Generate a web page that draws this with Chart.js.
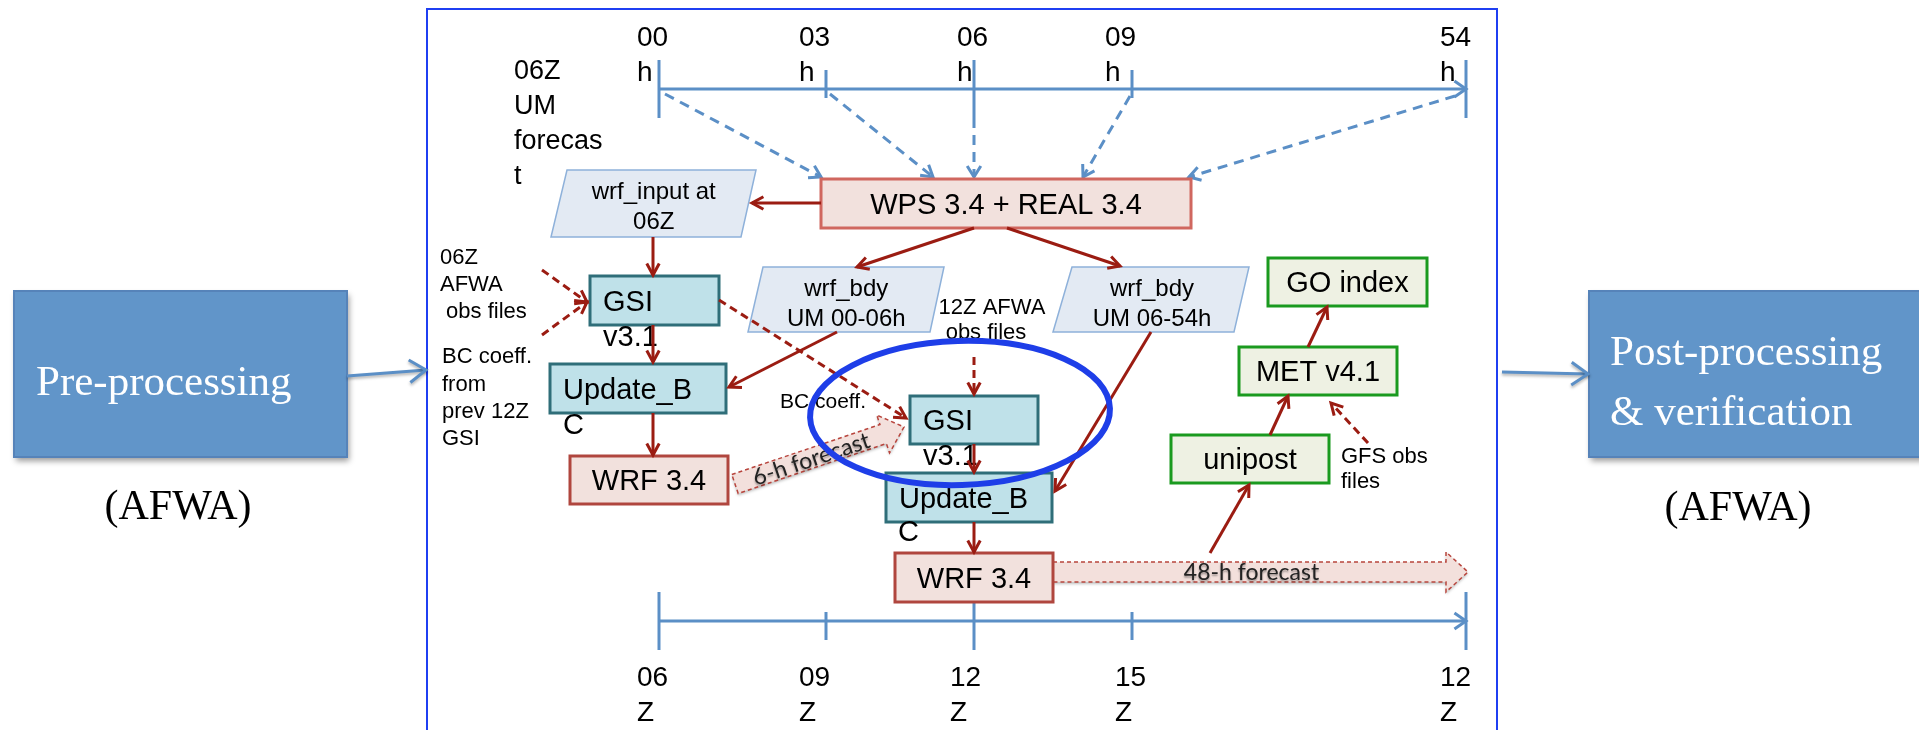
<!DOCTYPE html>
<html>
<head>
<meta charset="utf-8">
<script src="https://cdn.jsdelivr.net/npm/chart.js@4.4.1/dist/chart.umd.min.js"></script>
<style>
  html, body { margin: 0; padding: 0; background: #fff; overflow: hidden; }
  #wrap { width: 1919px; height: 730px; position: relative; }
</style>
</head>
<body>
<div id="wrap"><canvas id="flow" width="1919" height="730"></canvas></div>
<script>
// Osie czasu (góra: godziny prognozy UM, dół: czas Z)
const topHourLabels = ['00', '03', '06', '09', '54'];
const topHourX = [659, 826, 974, 1132, 1466];
const topLabelX = [637, 799, 957, 1105, 1440];
const topTickLong = [true, false, true, false, true];

const zuluLabels = ['06', '09', '12', '15', '12'];
const zuluX = [659, 826, 974, 1132, 1466];
const zuluLabelX = [637, 799, 950, 1115, 1440];
const zuluTickLong = [true, false, true, false, true];

// Prostokąty: [tekst, x1, y1, x2, y2, rodzaj]
const boxes = [
    ['WPS 3.4 + REAL 3.4', 821, 179, 1191, 228, 'wps'],
    ['GSI', 590, 276, 719, 325, 'gsi'],
    ['Update_B', 550, 364, 726, 413, 'gsi'],
    ['WRF 3.4', 570, 456, 728, 504, 'wrf'],
    ['GSI', 910, 396, 1038, 444, 'gsi'],
    ['Update_B', 886, 473, 1052, 522, 'gsi'],
    ['WRF 3.4', 895, 553, 1053, 602, 'wrf'],
    ['GO index', 1268, 258, 1427, 306, 'met'],
    ['MET v4.1', 1239, 347, 1397, 395, 'met'],
    ['unipost', 1171, 435, 1329, 483, 'met']
];

// Równoległoboki danych: [linia1, linia2, xL_góra, xR_góra, y_góra, xL_dół, xR_dół, y_dół]
const dataBoxes = [
    ['wrf_input at', '06Z', 567, 756, 170, 551, 741, 237],
    ['wrf_bdy', 'UM 00-06h', 763, 944, 267, 748, 930, 332],
    ['wrf_bdy', 'UM 06-54h', 1072, 1249, 267, 1053, 1234, 332]
];

// Strzałki: [x1, y1, x2, y2]
const redArrows = [
    [821, 203, 752, 203], [653, 237, 653, 275], [653, 325, 653, 362], [653, 413, 653, 455],
    [974, 228, 857, 267], [1007, 228, 1120, 266], [837, 332, 729, 387], [1151, 332, 1055, 491],
    [974, 444, 974, 472], [974, 522, 974, 552], [1210, 553, 1249, 485], [1270, 435, 1288, 396],
    [1308, 347, 1327, 307]
];
const redDashArrows = [
    [542, 270, 587, 302], [542, 335, 587, 302], [719, 300, 906, 418],
    [974, 357, 974, 394], [1368, 443, 1331, 403]
];
const blueDashArrows = [
    [665, 94, 821, 177], [830, 94, 933, 177], [974, 118, 974, 177],
    [1130, 96, 1083, 177], [1455, 96, 1189, 177]
];
const sideArrows = [[347, 376, 426, 370], [1502, 372, 1588, 374]];

// Strzałki blokowe prognoz: [tekst, x1, y1, x2, y2]
const forecastArrows = [
    ['6-h forecast', 735, 484, 904, 427],
    ['48-h forecast', 1053, 572, 1468, 572]
];

// Teksty luźne: [tekst, x, y, rozmiar, wyrównanie]
const notes = [
    ['06Z', 514, 72, 27, 'left'], ['UM', 514, 107, 27, 'left'], ['forecas', 514, 142, 27, 'left'], ['t', 514, 177, 27, 'left'],
    ['06Z', 440, 258, 22, 'left'], ['AFWA', 440, 285, 22, 'left'], [' obs files', 440, 312, 22, 'left'],
    ['BC coeff.', 442, 357, 22, 'left'], ['from', 442, 385, 22, 'left'], ['prev 12Z', 442, 412, 22, 'left'], ['GSI', 442, 439, 22, 'left'],
    ['v3.1', 603, 338, 29, 'left'], ['C', 563, 426, 29, 'left'],
    ['v3.1', 923, 457, 29, 'left'], ['C', 898, 533, 29, 'left'],
    ['BC coeff.', 780, 402, 21, 'left'],
    ['12Z AFWA', 992, 308, 22, 'center'], ['obs files', 986, 333, 22, 'center'],
    ['GFS obs', 1341, 457, 22, 'left'], ['files', 1341, 482, 22, 'left']
];

const STYLE = {
    wps: { fill: '#f2e1dd', stroke: '#d0675f', lw: 3 },
    gsi: { fill: '#bfe1e9', stroke: '#2f6e79', lw: 3 },
    wrf: { fill: '#f2e1dd', stroke: '#b0463e', lw: 3 },
    met: { fill: '#eef1e3', stroke: '#1a9a1f', lw: 3 }
};
const RED = '#9b1c12';
const BLUE = '#5b8fc6';
const SANS = '"Liberation Sans", Arial, sans-serif';
const SERIF = '"Liberation Serif", "DejaVu Serif", serif';

function arrowHead(ctx, x1, y1, x2, y2, len, ang) {
    const a = Math.atan2(y2 - y1, x2 - x1);
    ctx.beginPath();
    ctx.moveTo(x2 - len * Math.cos(a - ang), y2 - len * Math.sin(a - ang));
    ctx.lineTo(x2, y2);
    ctx.lineTo(x2 - len * Math.cos(a + ang), y2 - len * Math.sin(a + ang));
    ctx.stroke();
}

function line(ctx, x1, y1, x2, y2) {
    ctx.beginPath();
    ctx.moveTo(x1, y1);
    ctx.lineTo(x2, y2);
    ctx.stroke();
}

const flowPlugin = {
    id: 'flow',
    afterDraw(chart) {
        const ctx = chart.ctx;
        const sx = chart.scales.x, sy = chart.scales.y;
        const X = v => sx.getPixelForValue(v);
        const Y = v => sy.getPixelForValue(v);
        ctx.save();
        ctx.lineCap = 'butt';
        ctx.lineJoin = 'miter';

        // Ramka
        ctx.strokeStyle = '#1f3ff2';
        ctx.lineWidth = 2;
        ctx.strokeRect(X(427), Y(9), X(1497) - X(427), Y(745) - Y(9));

        // Bloki Pre / Post
        ctx.save();
        ctx.shadowColor = 'rgba(0,0,0,0.4)';
        ctx.shadowBlur = 6;
        ctx.shadowOffsetX = 2;
        ctx.shadowOffsetY = 4;
        ctx.fillStyle = '#6195c9';
        ctx.fillRect(X(14), Y(291), X(347) - X(14), Y(457) - Y(291));
        ctx.fillRect(X(1589), Y(291), X(1925) - X(1589), Y(457) - Y(291));
        ctx.restore();
        ctx.strokeStyle = '#5683b9';
        ctx.lineWidth = 2;
        ctx.strokeRect(X(14), Y(291), X(347) - X(14), Y(457) - Y(291));
        ctx.strokeRect(X(1589), Y(291), X(1925) - X(1589), Y(457) - Y(291));
        ctx.fillStyle = '#ffffff';
        ctx.font = '43px ' + SERIF;
        ctx.textAlign = 'left';
        ctx.textBaseline = 'alphabetic';
        ctx.fillText('Pre-processing', X(36), Y(395));
        ctx.fillText('Post-processing', X(1610), Y(365));
        ctx.fillText('& verification', X(1610), Y(425));
        ctx.fillStyle = '#000';
        ctx.font = '42px ' + SERIF;
        ctx.textAlign = 'center';
        ctx.textBaseline = 'middle';
        ctx.fillText('(AFWA)', X(178), Y(508));
        ctx.fillText('(AFWA)', X(1738), Y(509));

        // Strzałki boczne
        ctx.save();
        ctx.shadowColor = 'rgba(0,0,0,0.3)';
        ctx.shadowBlur = 3;
        ctx.shadowOffsetY = 2;
        ctx.strokeStyle = BLUE;
        ctx.lineWidth = 3;
        sideArrows.forEach(a => {
            line(ctx, X(a[0]), Y(a[1]), X(a[2]), Y(a[3]));
            arrowHead(ctx, X(a[0]), Y(a[1]), X(a[2]), Y(a[3]), 20, 0.6);
        });
        ctx.restore();

        // Osie czasu
        ctx.strokeStyle = BLUE;
        ctx.lineWidth = 3;
        line(ctx, X(topHourX[0]), Y(89), X(topHourX[4]), Y(89));
        arrowHead(ctx, X(topHourX[0]), Y(89), X(topHourX[4]), Y(89), 14, 0.6);
        line(ctx, X(zuluX[0]), Y(621), X(zuluX[4]), Y(621));
        arrowHead(ctx, X(zuluX[0]), Y(621), X(zuluX[4]), Y(621), 14, 0.6);
        topHourX.forEach((x, i) => {
            const y1 = topTickLong[i] ? 60 : 70, y2 = topTickLong[i] ? 118 : 98;
            line(ctx, X(x), Y(y1), X(x), Y(y2));
        });
        zuluX.forEach((x, i) => {
            const y1 = zuluTickLong[i] ? 592 : 612, y2 = zuluTickLong[i] ? 650 : 640;
            line(ctx, X(x), Y(y1), X(x), Y(y2));
        });
        ctx.fillStyle = '#000';
        ctx.font = '28px ' + SANS;
        ctx.textAlign = 'left';
        ctx.textBaseline = 'middle';
        topHourLabels.forEach((t, i) => {
            ctx.fillText(t, X(topLabelX[i]), Y(38));
            ctx.fillText('h', X(topLabelX[i]), Y(73));
        });
        zuluLabels.forEach((t, i) => {
            ctx.fillText(t, X(zuluLabelX[i]), Y(678));
            ctx.fillText('Z', X(zuluLabelX[i]), Y(713));
        });

        // Niebieskie przerywane
        ctx.strokeStyle = BLUE;
        ctx.lineWidth = 3;
        blueDashArrows.forEach(a => {
            ctx.setLineDash([10, 7]);
            line(ctx, X(a[0]), Y(a[1]), X(a[2]), Y(a[3]));
            ctx.setLineDash([]);
            arrowHead(ctx, X(a[0]), Y(a[1]), X(a[2]), Y(a[3]), 13, 0.55);
        });

        // Równoległoboki
        dataBoxes.forEach(d => {
            ctx.beginPath();
            ctx.moveTo(X(d[2]), Y(d[4]));
            ctx.lineTo(X(d[3]), Y(d[4]));
            ctx.lineTo(X(d[6]), Y(d[7]));
            ctx.lineTo(X(d[5]), Y(d[7]));
            ctx.closePath();
            ctx.fillStyle = '#e3eaf3';
            ctx.fill();
            ctx.strokeStyle = '#8eb1da';
            ctx.lineWidth = 1.5;
            ctx.stroke();
            const cx = (d[2] + d[3] + d[5] + d[6]) / 4;
            ctx.fillStyle = '#000';
            ctx.font = '24px ' + SANS;
            ctx.textAlign = 'center';
            ctx.textBaseline = 'middle';
            ctx.fillText(d[0], X(cx), Y(d[4] + 22));
            ctx.fillText(d[1], X(cx), Y(d[4] + 52));
        });

        // Strzałki blokowe
        forecastArrows.forEach(f => {
            const x1 = X(f[1]), y1 = Y(f[2]), x2 = X(f[3]), y2 = Y(f[4]);
            const L = Math.hypot(x2 - x1, y2 - y1), ang = Math.atan2(y2 - y1, x2 - x1);
            const h = 10, H = 20, hl = 22;
            ctx.save();
            ctx.translate(x1, y1);
            ctx.rotate(ang);
            ctx.beginPath();
            ctx.moveTo(0, -h);
            ctx.lineTo(L - hl, -h);
            ctx.lineTo(L - hl, -H);
            ctx.lineTo(L, 0);
            ctx.lineTo(L - hl, H);
            ctx.lineTo(L - hl, h);
            ctx.lineTo(0, h);
            ctx.closePath();
            ctx.save();
            ctx.shadowColor = 'rgba(0,0,0,0.25)';
            ctx.shadowBlur = 3;
            ctx.shadowOffsetY = 2;
            ctx.fillStyle = '#f3e0dc';
            ctx.fill();
            ctx.restore();
            ctx.setLineDash([4, 3]);
            ctx.strokeStyle = '#b8453d';
            ctx.lineWidth = 1.5;
            ctx.stroke();
            ctx.setLineDash([]);
            ctx.save();
            ctx.shadowColor = 'rgba(0,0,0,0.35)';
            ctx.shadowBlur = 2;
            ctx.shadowOffsetY = 2;
            ctx.fillStyle = '#222';
            ctx.font = '23px Lato, "Open Sans", sans-serif';
            ctx.textAlign = 'center';
            ctx.textBaseline = 'middle';
            ctx.fillText(f[0], (L - hl) / 2 + 2, 1);
            ctx.restore();
            ctx.restore();
        });

        // Prostokąty procesów
        boxes.forEach(b => {
            const st = STYLE[b[5]];
            ctx.fillStyle = st.fill;
            ctx.fillRect(X(b[1]), Y(b[2]), X(b[3]) - X(b[1]), Y(b[4]) - Y(b[2]));
            ctx.strokeStyle = st.stroke;
            ctx.lineWidth = st.lw;
            ctx.strokeRect(X(b[1]), Y(b[2]), X(b[3]) - X(b[1]), Y(b[4]) - Y(b[2]));
            ctx.fillStyle = '#000';
            ctx.textBaseline = 'middle';
            if (b[5] === 'gsi') {
                ctx.font = '29px ' + SANS;
                ctx.textAlign = 'left';
                ctx.fillText(b[0], X(b[1] + 13), Y((b[2] + b[4]) / 2 + 2));
            } else {
                ctx.font = (b[5] === 'wps' ? '29px ' : '29px ') + SANS;
                ctx.textAlign = 'center';
                ctx.fillText(b[0], X((b[1] + b[3]) / 2), Y((b[2] + b[4]) / 2 + 2));
            }
        });

        // Teksty luźne
        ctx.fillStyle = '#000';
        ctx.textBaseline = 'middle';
        notes.forEach(n => {
            ctx.font = n[3] + 'px ' + SANS;
            ctx.textAlign = n[4];
            ctx.fillText(n[0], X(n[1]), Y(n[2]));
        });

        // Czerwone strzałki
        ctx.strokeStyle = RED;
        ctx.lineWidth = 3;
        redArrows.forEach(a => {
            line(ctx, X(a[0]), Y(a[1]), X(a[2]), Y(a[3]));
            arrowHead(ctx, X(a[0]), Y(a[1]), X(a[2]), Y(a[3]), 13, 0.5);
        });
        redDashArrows.forEach(a => {
            ctx.setLineDash([8, 5]);
            line(ctx, X(a[0]), Y(a[1]), X(a[2]), Y(a[3]));
            ctx.setLineDash([]);
            arrowHead(ctx, X(a[0]), Y(a[1]), X(a[2]), Y(a[3]), 13, 0.5);
        });

        // Elipsa wyróżnienia
        ctx.strokeStyle = '#1e3ee8';
        ctx.lineWidth = 6;
        ctx.beginPath();
        ctx.ellipse(X(960), Y(413), 150, 72, -0.03, 0, Math.PI * 2);
        ctx.stroke();

        ctx.restore();
    }
};

new Chart(document.getElementById('flow').getContext('2d'), {
    type: 'scatter',
    data: {
        datasets: [{
            data: boxes.map(b => ({ x: (b[1] + b[3]) / 2, y: (b[2] + b[4]) / 2 })),
            pointRadius: 0
        }]
    },
    options: {
        responsive: false,
        animation: false,
        layout: { padding: 0 },
        plugins: { legend: { display: false }, tooltip: { enabled: false } },
        scales: {
            x: { type: 'linear', min: 0, max: 1919, display: false },
            y: { type: 'linear', min: 0, max: 730, reverse: true, display: false }
        }
    },
    plugins: [flowPlugin]
});
</script>
</body>
</html>
